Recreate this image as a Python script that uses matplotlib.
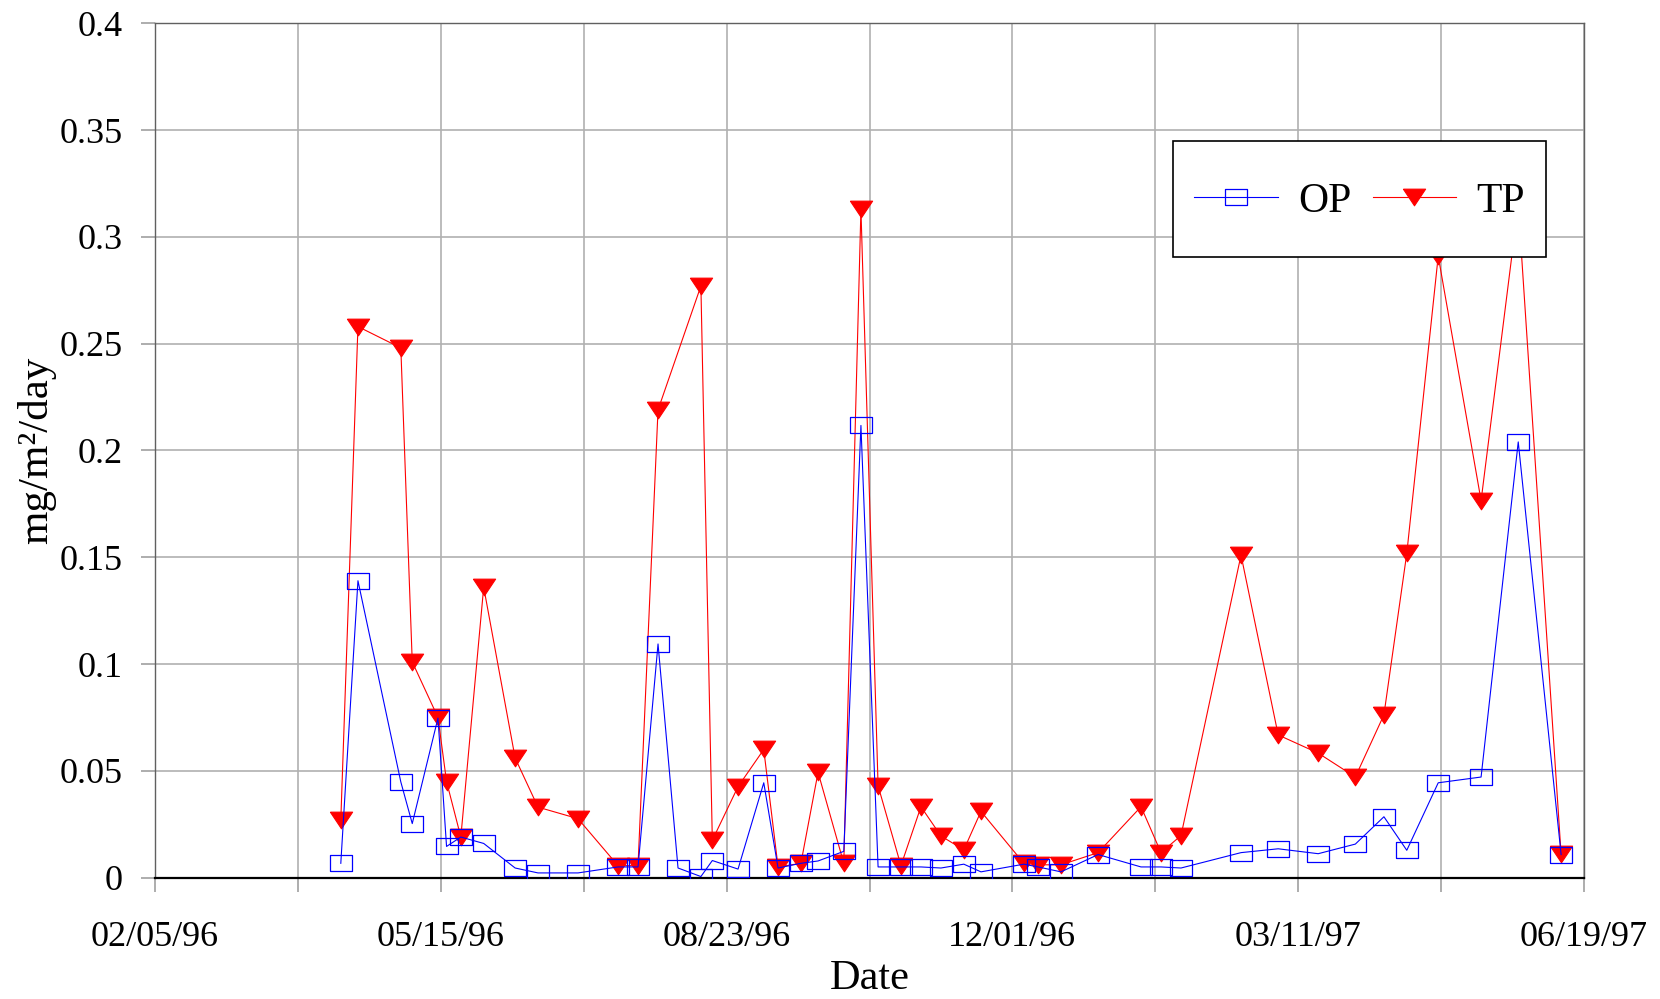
import matplotlib.pyplot as plt
import matplotlib.dates as mdates
import matplotlib.ticker as mticker
import pandas as pd
import numpy as np

plt.rcParams['font.family'] = ['Liberation Serif', 'DejaVu Serif']

# sampling dates (mm/dd/yy) and deposition rates, mg/m2/day
dates = ['04/10/96', '04/16/96', '05/01/96', '05/05/96', '05/14/96', '05/17/96',
         '05/22/96', '05/30/96', '06/10/96', '06/18/96', '07/02/96', '07/16/96',
         '07/23/96', '07/30/96', '08/06/96', '08/14/96', '08/18/96', '08/27/96',
         '09/05/96', '09/10/96', '09/18/96', '09/24/96', '10/03/96', '10/09/96',
         '10/15/96', '10/23/96', '10/30/96', '11/06/96', '11/14/96', '11/20/96',
         '12/05/96', '12/10/96', '12/18/96', '12/31/96', '01/15/97', '01/22/97',
         '01/29/97', '02/19/97', '03/04/97', '03/18/97', '03/31/97', '04/10/97',
         '04/18/97', '04/29/97', '05/14/97', '05/27/97', '06/11/97']

op = [0.0067, 0.139, 0.0448, 0.0253, 0.0747, 0.0146, 0.019, 0.016, 0.0045, 0.0022,
      0.0022, 0.005, 0.005, 0.1094, 0.0045, 0.0005, 0.008, 0.004, 0.0444, 0.0045,
      0.0067, 0.0078, 0.0123, 0.2117, 0.005, 0.005, 0.005, 0.0045, 0.0063, 0.0027,
      0.0063, 0.005, 0.0027, 0.0108, 0.005, 0.005, 0.0045, 0.0117, 0.0135, 0.0112,
      0.0157, 0.0285, 0.0128, 0.0444, 0.0471, 0.204, 0.0108]

tp = [0.027, 0.258, 0.248, 0.101, 0.075, 0.045, 0.019, 0.136, 0.056, 0.033,
      0.0276, 0.0056, 0.0056, 0.219, np.nan, 0.277, 0.0175, 0.0426, 0.060, 0.005,
      0.0067, 0.0493, 0.0067, 0.313, 0.043, 0.0056, 0.0332, 0.0195, 0.013, 0.031,
      0.0067, 0.006, 0.006, 0.0117, 0.0332, 0.0117, 0.0197, 0.151, 0.0668, 0.0583,
      0.0471, 0.0762, 0.1518, 0.291, 0.1765, 0.315, 0.0109]

start, end = '02/05/96', '06/19/97'

x = pd.to_datetime(dates, format='%m/%d/%y')
op = np.array(op)
tp = np.array(tp)
has_tp = np.isfinite(tp)

# flattened box and triangle markers
box = [(-1, -0.75), (1, -0.75), (1, 0.75), (-1, 0.75), (-1, -0.75)]
tri = [(-1, 0.75), (1, 0.75), (0, -0.75), (-1, 0.75)]

fig = plt.figure(figsize=(16.6, 9.99), dpi=100)
ax = fig.add_axes([0.0934, 0.1215, 0.8608, 0.8552])

ax.plot(x[has_tp], tp[has_tp], color='#ff0000', lw=0.8, marker=tri, ms=16,
        mfc='#ff0000', mec='#ff0000', mew=0.8, label='TP', zorder=3)
ax.plot(x, op, color='#0000ff', lw=0.8, marker=box, ms=16,
        mfc='none', mec='#0000ff', mew=0.9, label='OP', zorder=4)

t0 = pd.to_datetime(start, format='%m/%d/%y')
t1 = pd.to_datetime(end, format='%m/%d/%y')
ax.set_xlim(t0, t1)
ax.set_ylim(0, 0.4)

xt = pd.date_range(t0, t1, freq='50D')
ax.set_xticks(xt)
ax.set_xticklabels([d.strftime('%m/%d/%y') if i % 2 == 0 else '' for i, d in enumerate(xt)])
ax.yaxis.set_major_locator(mticker.MultipleLocator(0.05))
ax.yaxis.set_major_formatter(mticker.FuncFormatter(lambda v, p: '%g' % round(v, 2)))

ax.tick_params(axis='both', length=10, width=1.2, color='#a0a0a0', labelsize=26, pad=13)
ax.tick_params(axis='x', pad=21)
ax.grid(True, color='#b0b0b0', lw=1.2)
ax.set_axisbelow(True)
for s in ['left', 'top', 'right']:
    ax.spines[s].set_color('#606060')
    ax.spines[s].set_linewidth(1.0)
ax.spines['bottom'].set_color('black')
ax.spines['bottom'].set_linewidth(1.6)

ax.set_xlabel('Date', fontsize=30.5, labelpad=4)
ax.set_ylabel('mg/m²/day', fontsize=31, labelpad=3)

h, l = ax.get_legend_handles_labels()
leg = ax.legend(h[::-1], l[::-1], ncol=2, loc='upper right', fontsize=30,
                bbox_to_anchor=(1546 / 1660, 1 - 141 / 999), bbox_transform=fig.transFigure,
                borderaxespad=0, fancybox=False, framealpha=1, edgecolor='black',
                handlelength=2.0, handletextpad=0.5, columnspacing=0.5,
                handleheight=2.35, borderpad=0.5)
leg.get_frame().set_linewidth(1.2)
# line the handles up with the middle of the labels
for hl in leg.legend_handles:
    hl.set_ydata(np.asarray(hl.get_ydata()) - 7.5)

plt.savefig('out.png', dpi=100)
